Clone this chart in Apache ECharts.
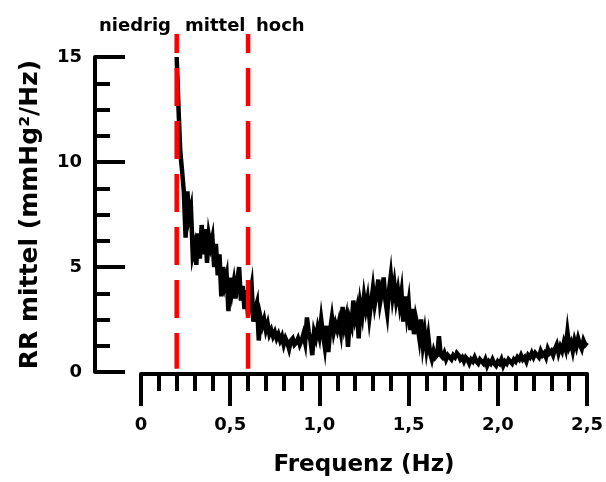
<!DOCTYPE html>
<html lang="de" style="height: 100%">

<head>
  <meta charset="utf-8" />
</head>

<body style="height: 100%; margin: 0">
  <div id="container" style="height: 482px; width: 606px;"></div>

  <script type="text/javascript" src="https://cdn.jsdelivr.net/npm/echarts@6/dist/echarts.min.js"></script>

  <script type="text/javascript">
    // Frequenzachse: Start und Schrittweite der Messpunkte (Hz)
    var freqStart = 0.2;
    var freqStep = 0.01;

    // RR mittel (mmHg²/Hz), ein Wert je 0,01 Hz von 0,20 bis 2,50
    var rrMean = [
      15.0, 12.6, 10.5, 9.6, 8.6, 6.4, 8.6, 7.4, 7.8, 5.6,
      6.0, 5.1, 6.6, 5.4, 7.0, 5.6, 6.8, 5.2, 6.5, 6.0,
      6.4, 5.0, 6.1, 4.6, 5.6, 3.6, 5.0, 4.2, 4.6, 2.9,
      4.5, 3.8, 4.3, 3.5, 4.4, 5.0, 3.4, 4.1, 3.0, 3.9,
      2.7, 3.6, 4.1, 2.4, 3.0, 3.3, 1.5, 2.6, 2.2, 2.5,
      2.0, 2.3, 1.8, 2.0, 1.7, 1.9, 1.6, 1.8, 1.5, 1.7,
      1.3, 1.6, 1.4, 1.1, 1.5, 1.6, 1.3, 1.4, 1.6, 1.3,
      1.5, 1.8, 1.4, 2.6, 1.9, 1.5, 0.8, 1.9, 1.6, 2.1,
      1.7, 2.5, 1.8, 1.2, 2.2, 0.95, 2.0, 2.6, 1.9, 2.3,
      2.0, 2.4, 1.9, 3.1, 2.2, 2.6, 1.2, 2.5, 2.2, 3.4,
      2.6, 3.0, 1.6, 3.2, 2.7, 3.6, 3.0, 3.5, 2.6, 3.3,
      4.0, 3.2, 3.7, 4.4, 3.3, 3.8, 4.5, 3.4, 2.8, 3.9,
      4.6, 3.6, 4.2, 3.4, 3.9, 3.2, 3.8, 2.4, 3.6, 2.7,
      3.3, 2.0, 3.0, 1.8, 2.6, 2.2, 1.6, 2.5, 1.3, 1.9,
      1.1, 1.7, 0.9, 0.6, 1.0, 0.7, 0.8, 1.7, 0.8, 0.7,
      0.9, 0.6, 0.8, 0.7, 0.6, 0.8, 0.7, 0.9, 0.8, 0.6,
      0.7, 0.5, 0.7, 0.6, 0.4, 0.6, 0.5, 0.7, 0.5, 0.4,
      0.6, 0.5, 0.4, 0.6, 0.3, 0.5, 0.4, 0.6, 0.4, 0.3,
      0.5, 0.4, 0.6, 0.3, 0.5, 0.4, 0.6, 0.5, 0.4, 0.6,
      0.5, 0.7, 0.6, 0.8, 0.6, 0.7, 0.5, 0.8, 0.7, 0.9,
      0.7, 0.9, 0.8, 0.7, 1.0, 0.8, 0.9, 0.7, 1.1, 0.9,
      1.0, 0.8, 1.1, 1.3, 0.9, 1.2, 1.0, 1.4, 1.1, 1.9,
      1.2, 1.4, 1.0, 1.5, 1.2, 1.6, 1.3, 1.1, 1.5, 1.3,
      1.4
    ];

    // Bandgrenzen (Hz) und Bandnamen
    var bandEdges = [0.2, 0.6];
    var bandNames = ['niedrig', 'mittel', 'hoch'];

    // Achsen
    var xMax = 2.5;
    var yMax = 15;
    var edgeTop = 16.1; // die roten Linien reichen etwas über 15 hinaus

    var font = "'DejaVu Sans', sans-serif";

    var lineData = rrMean.map(function (v, i) {
      return [Math.round((freqStart + i * freqStep) * 100) / 100, v];
    });

    var edgeSeries = bandEdges.map(function (f) {
      return {
        type: 'line',
        data: [[f, edgeTop], [f, 0.15]],
        showSymbol: false,
        clip: false,
        silent: true,
        z: 3,
        lineStyle: { color: '#ff0000', width: 4.5, type: [38, 15], dashOffset: 19 }
      };
    });

    var dom = document.getElementById('container');
    var myChart = echarts.init(dom, null, { renderer: 'canvas' });

    var option = {
      animation: false,
      backgroundColor: '#ffffff',
      grid: { left: 141, right: 15, top: 57, bottom: 109 },
      xAxis: {
        type: 'value',
        min: 0,
        max: xMax,
        interval: 0.5,
        offset: 2,
        name: 'Frequenz (Hz)',
        nameLocation: 'middle',
        nameGap: 80,
        nameTextStyle: { fontFamily: font, fontWeight: 'bold', fontSize: 23, color: '#000' },
        splitLine: { show: false },
        axisLine: { show: true, onZero: false, lineStyle: { color: '#000', width: 4 } },
        axisTick: { show: true, length: 32, lineStyle: { color: '#000', width: 4 } },
        minorTick: { show: true, splitNumber: 5, length: 17, lineStyle: { color: '#000', width: 4 } },
        axisLabel: {
          margin: 42,
          fontFamily: font,
          fontWeight: 'bold',
          fontSize: 18,
          color: '#000',
          formatter: function (v) {
            return v === 0 ? '0' : v.toFixed(1).replace('.', ',');
          }
        }
      },
      yAxis: {
        type: 'value',
        min: 0,
        max: yMax,
        interval: 5,
        offset: 46,
        name: 'RR mittel (mmHg²/Hz)',
        nameLocation: 'middle',
        nameGap: 52,
        nameTextStyle: { fontFamily: font, fontWeight: 'bold', fontSize: 25, color: '#000' },
        splitLine: { show: false },
        axisLine: { show: true, onZero: false, lineStyle: { color: '#000', width: 4 } },
        axisTick: { show: true, inside: true, length: 30, lineStyle: { color: '#000', width: 4 } },
        minorTick: { show: true, splitNumber: 4, length: 15, lineStyle: { color: '#000', width: 4 } },
        axisLabel: {
          margin: 13,
          padding: [7, 0, 0, 0],
          fontFamily: font,
          fontWeight: 'bold',
          fontSize: 18,
          color: '#000'
        }
      },
      graphic: [
        { type: 'text', left: 99, top: 17, style: { text: bandNames[0], font: 'bold 18px ' + font, fill: '#000' } },
        { type: 'text', left: 185, top: 17, style: { text: bandNames[1], font: 'bold 18px ' + font, fill: '#000' } },
        { type: 'text', left: 256, top: 17, style: { text: bandNames[2], font: 'bold 18px ' + font, fill: '#000' } }
      ],
      series: [
        {
          name: 'RR mittel',
          type: 'line',
          data: lineData,
          showSymbol: false,
          z: 2,
          lineStyle: { color: '#000', width: 4.5, join: 'miter' }
        }
      ].concat(edgeSeries)
    };

    myChart.setOption(option);
    window.addEventListener('resize', myChart.resize);
  </script>
</body>

</html>
